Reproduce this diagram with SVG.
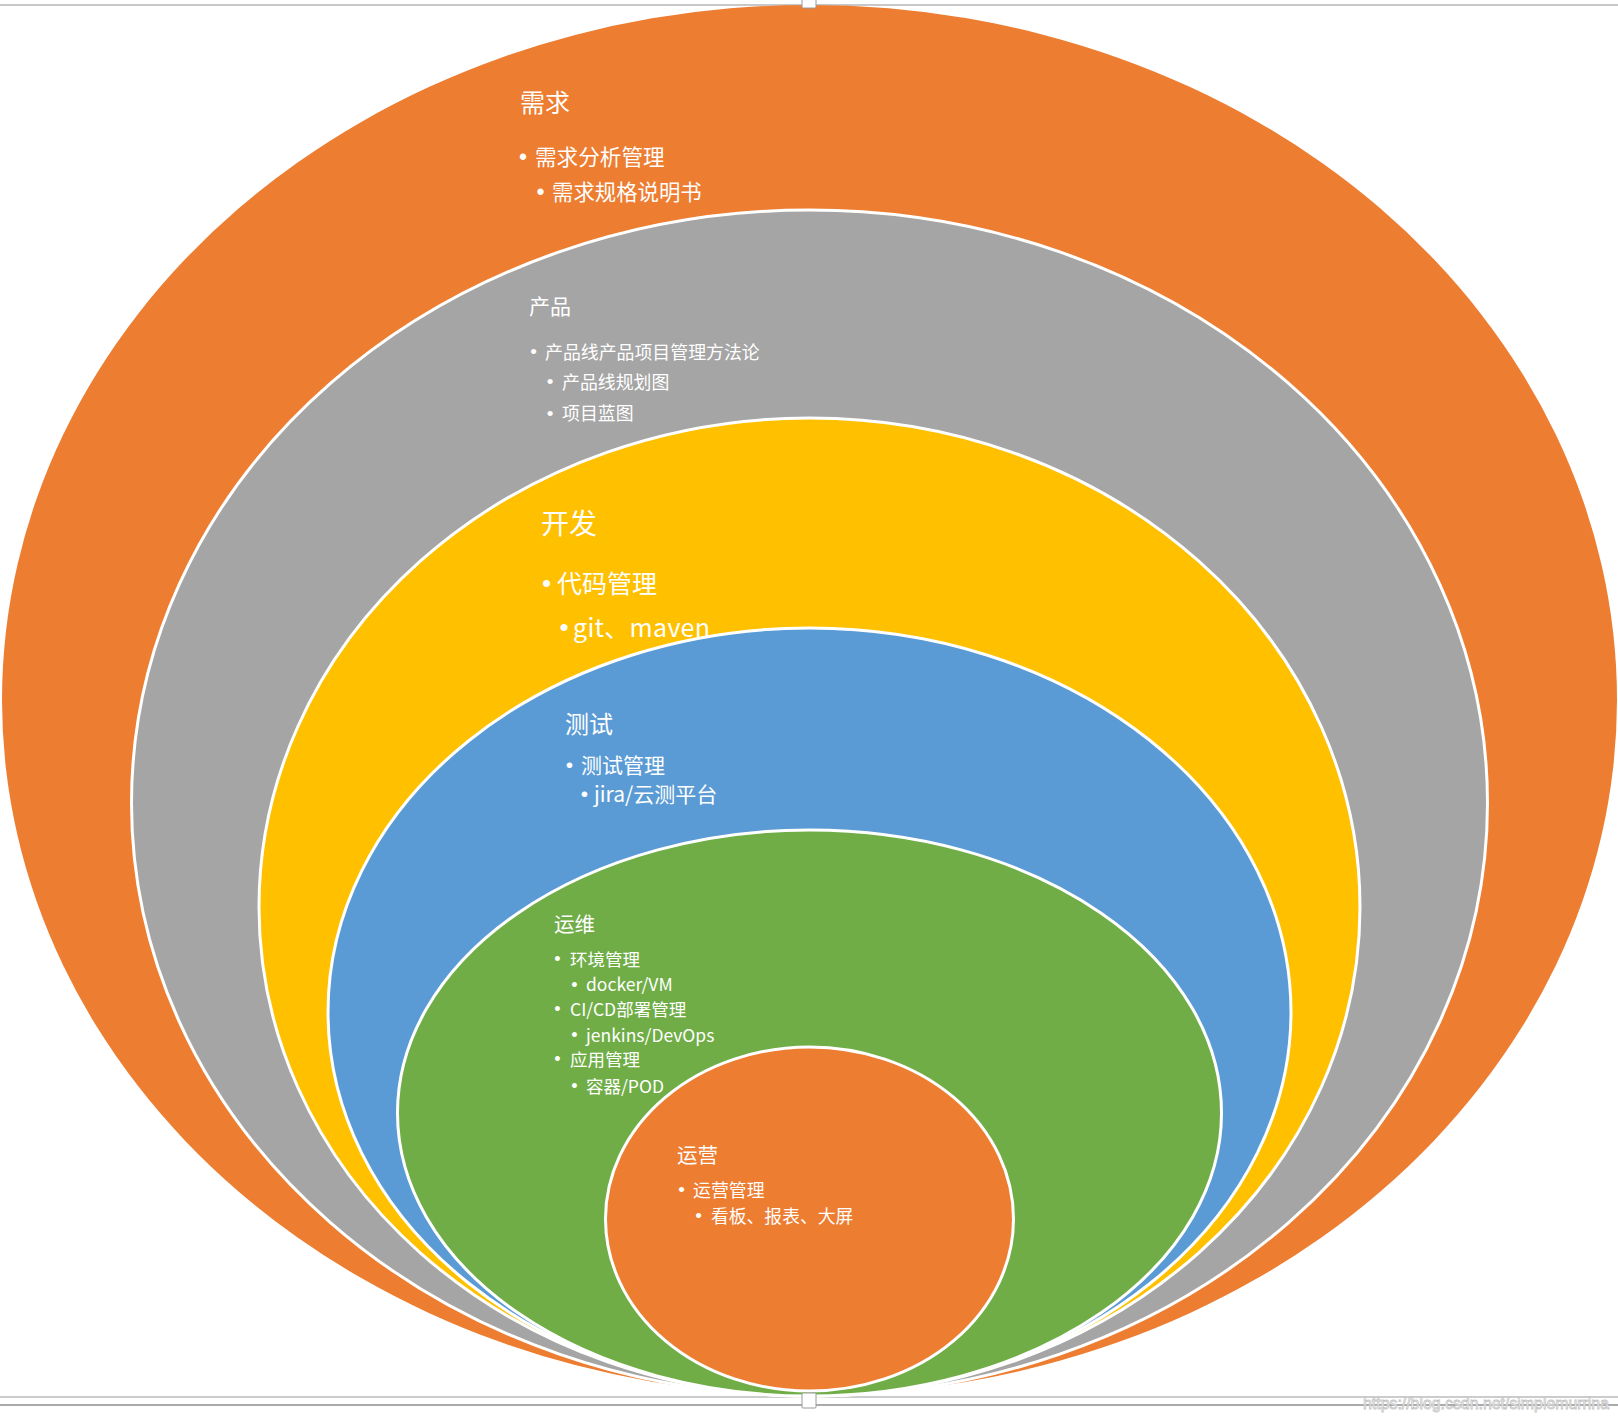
<svg xmlns="http://www.w3.org/2000/svg" width="1618" height="1422" viewBox="0 0 1618 1422">
<defs>
<style>
.ring{stroke:#ffffff;stroke-width:3}
.t{fill:#ffffff;font-family:"Noto Sans CJK SC","Noto Sans",sans-serif}
.b{fill:#ffffff;font-family:"Liberation Sans",Arial,sans-serif;text-anchor:middle}
.o{fill:#ED7D31}
.g{fill:#A5A5A5}
.y{fill:#FFC000}
.bl{fill:#5B9BD5}
.gr{fill:#70AD47}
.h{fill:#ffffff;stroke:#9a9a9a;stroke-width:1}
</style>
</defs>
<rect width="1618" height="1422" fill="#ffffff"/>
<line x1="0" y1="5" x2="1618" y2="5" stroke="#c8c8c8" stroke-width="2"/>
<line x1="0" y1="1397" x2="1618" y2="1397" stroke="#cccccc" stroke-width="2"/>
<line x1="0" y1="1405" x2="1618" y2="1405" stroke="#aaaaaa" stroke-width="2"/>

<g id="node-xuqiu">
<ellipse class="o" cx="809.5" cy="700" rx="807.5" ry="695"/>
<text class="t" x="520" y="112" font-size="25">需求</text>
<text class="b" x="523" y="164.7" font-size="23">•</text>
<text class="t" x="535" y="165" font-size="21.6">需求分析管理</text>
<text class="b" x="540.5" y="199.7" font-size="23">•</text>
<text class="t" x="552" y="200" font-size="21.4">需求规格说明书</text>
</g>

<g id="node-chanpin">
<ellipse class="g ring" cx="809.5" cy="803" rx="678" ry="593"/>
<text class="t" x="529" y="314" font-size="21">产品</text>
<text class="b" x="533.5" y="358.4" font-size="19">•</text>
<text class="t" x="545" y="358.5" font-size="17.9">产品线产品项目管理方法论</text>
<text class="b" x="550" y="388.4" font-size="19">•</text>
<text class="t" x="562" y="388.5" font-size="17.9">产品线规划图</text>
<text class="b" x="550" y="419.9" font-size="19">•</text>
<text class="t" x="562" y="420" font-size="17.9">项目蓝图</text>
</g>

<g id="node-kaifa">
<ellipse class="y ring" cx="809.5" cy="907" rx="550.5" ry="489"/>
<text class="t" x="541" y="534" font-size="28">开发</text>
<text class="b" x="546.5" y="591.7" font-size="26">•</text>
<text class="t" x="557" y="593" font-size="25">代码管理</text>
<text class="b" x="564" y="635.7" font-size="26">•</text>
<text class="t" x="573" y="636.5" font-size="25" textLength="137" lengthAdjust="spacing">git、maven</text>
</g>

<g id="node-ceshi">
<ellipse class="bl ring" cx="809.5" cy="1012" rx="481.5" ry="384"/>
<text class="t" x="565" y="733" font-size="24">测试</text>
<text class="b" x="569.5" y="771.9" font-size="21">•</text>
<text class="t" x="581" y="772.5" font-size="21">测试管理</text>
<text class="b" x="584.5" y="800.9" font-size="21">•</text>
<text class="t" x="594" y="801.5" font-size="21">jira/云测平台</text>
</g>

<g id="node-yunwei">
<ellipse class="gr ring" cx="809.5" cy="1113" rx="412" ry="283"/>
<text class="t" x="554" y="931.5" font-size="20.5">运维</text>
<text class="b" x="557.5" y="965.2" font-size="18">•</text>
<text class="t" x="570" y="965.5" font-size="17.5">环境管理</text>
<text class="b" x="574.5" y="990.7" font-size="18">•</text>
<text class="t" x="586" y="991" font-size="17.5">docker/VM</text>
<text class="b" x="557.5" y="1015.2" font-size="18">•</text>
<text class="t" x="570" y="1015.5" font-size="17.5">CI/CD部署管理</text>
<text class="b" x="574.5" y="1041.2" font-size="18">•</text>
<text class="t" x="586" y="1041.5" font-size="17.5">jenkins/DevOps</text>
<text class="b" x="557.5" y="1065.2" font-size="18">•</text>
<text class="t" x="570" y="1065.5" font-size="17.5">应用管理</text>
<text class="b" x="574.5" y="1092.2" font-size="18">•</text>
<text class="t" x="586" y="1092.5" font-size="17.5">容器/POD</text>
</g>

<g id="node-yunying">
<ellipse class="o ring" cx="809.5" cy="1219" rx="204" ry="172"/>
<text class="t" x="677" y="1162.5" font-size="20.5">运营</text>
<text class="b" x="681.5" y="1196.4" font-size="19">•</text>
<text class="t" x="693" y="1196.5" font-size="17.9">运营管理</text>
<text class="b" x="698.5" y="1222.4" font-size="19">•</text>
<text class="t" x="711" y="1222.5" font-size="17.8">看板、报表、大屏</text>
</g>

<g id="connectors"></g>

<g id="handles">
<rect class="h" x="802" y="-6" width="14" height="14" rx="1"/>
<rect class="h" x="802" y="1393" width="14" height="15" rx="1"/>
</g>

<text x="1363" y="1409" font-size="16" textLength="246" lengthAdjust="spacingAndGlyphs" fill="#ffffff" stroke="#c4c4c4" stroke-width="0.8" font-family="'Liberation Sans',Arial,sans-serif">https://blog.csdn.net/simplemurrina</text>
</svg>
